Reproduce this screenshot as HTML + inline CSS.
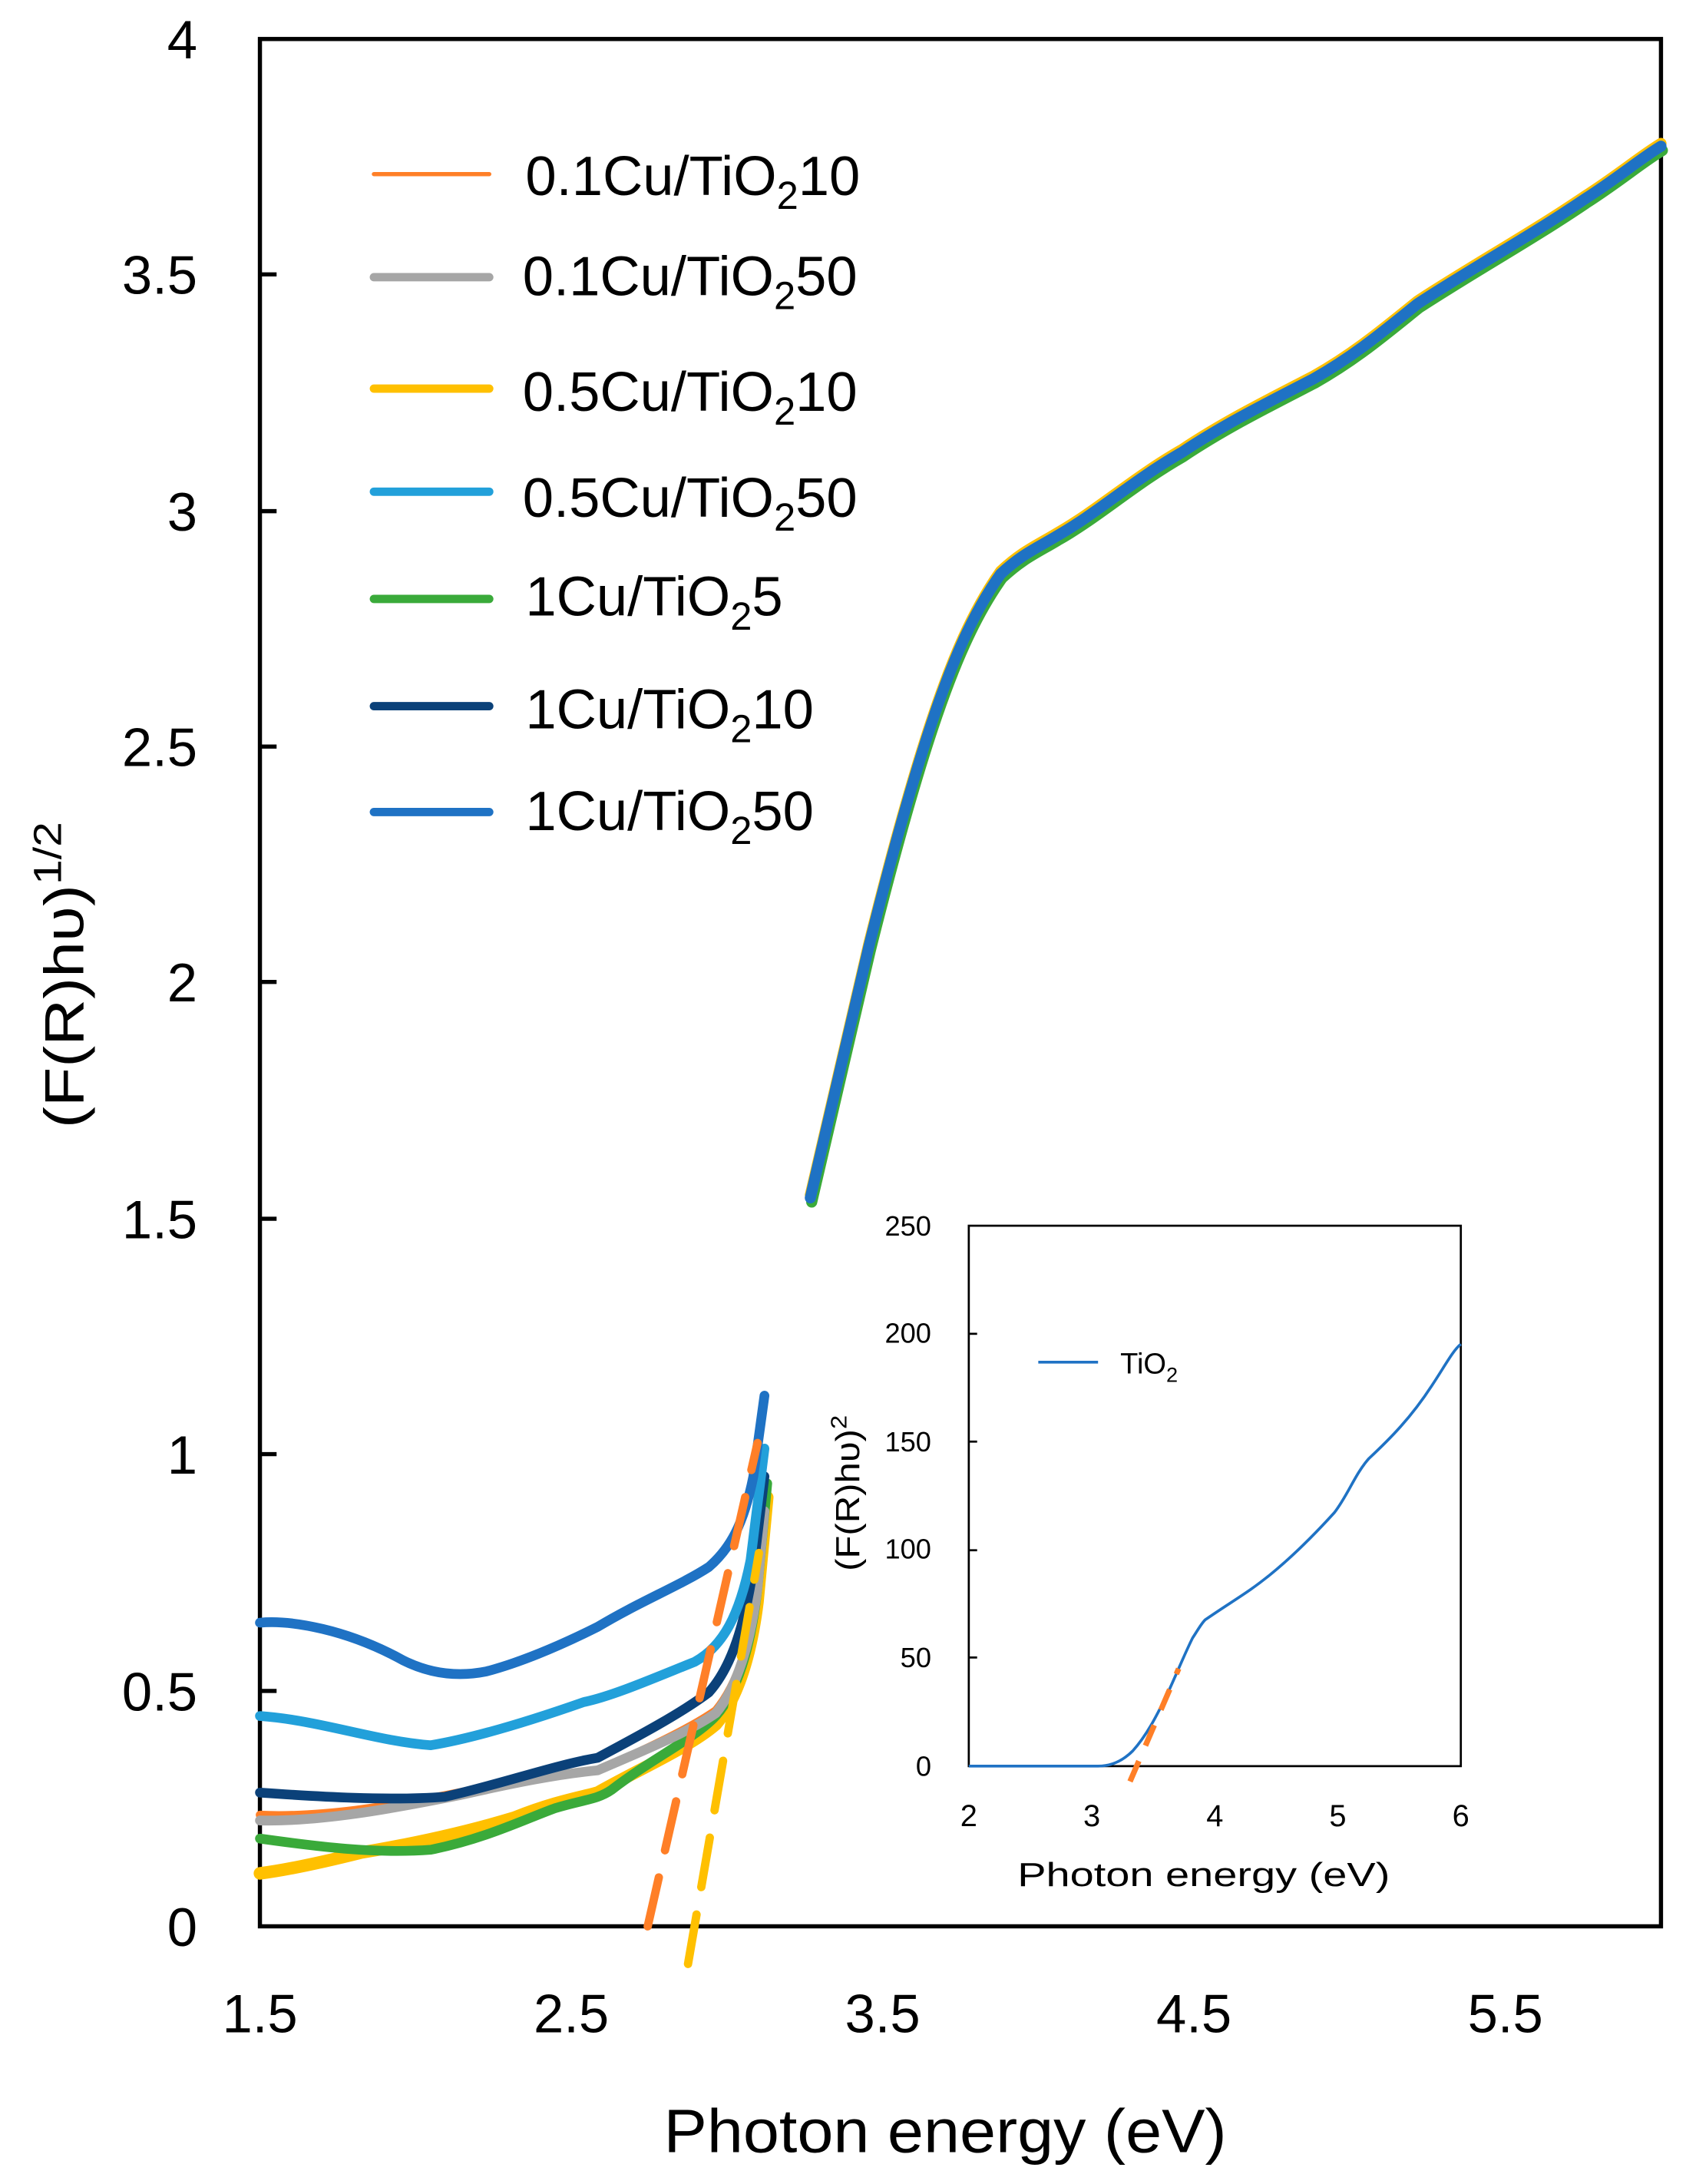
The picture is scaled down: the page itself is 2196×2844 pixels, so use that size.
<!DOCTYPE html>
<html><head><meta charset="utf-8"><style>
html,body{margin:0;padding:0;background:#fff;}
svg{display:block;}
text{font-family:"Liberation Sans",sans-serif;fill:#000;}
</style></head><body>
<svg width="2196" height="2844" viewBox="0 0 1213 1568" preserveAspectRatio="none" xmlns="http://www.w3.org/2000/svg">
<rect width="1213" height="1568" fill="#fff"/>
<rect x="187" y="28" width="1008" height="1355" fill="none" stroke="#000" stroke-width="3"/>
<g stroke="#000" stroke-width="3">
<line x1="187" y1="197" x2="199" y2="197"/><line x1="187" y1="367" x2="199" y2="367"/>
<line x1="187" y1="536" x2="199" y2="536"/><line x1="187" y1="705" x2="199" y2="705"/>
<line x1="187" y1="875" x2="199" y2="875"/><line x1="187" y1="1044" x2="199" y2="1044"/>
<line x1="187" y1="1214" x2="199" y2="1214"/>
</g>
<g font-size="39" text-anchor="end">
<text x="142" y="42">4</text><text x="142" y="211">3.5</text><text x="142" y="381">3</text>
<text x="142" y="550">2.5</text><text x="142" y="719">2</text><text x="142" y="889">1.5</text>
<text x="142" y="1058">1</text><text x="142" y="1228">0.5</text><text x="142" y="1397">0</text>
</g>
<g font-size="39" text-anchor="middle">
<text x="187" y="1459">1.5</text><text x="411" y="1459">2.5</text><text x="635" y="1459">3.5</text>
<text x="859" y="1459">4.5</text><text x="1083" y="1459">5.5</text>
</g>
<text x="680" y="1545" font-size="44" text-anchor="middle" textLength="405" lengthAdjust="spacingAndGlyphs">Photon energy (eV)</text>
<text transform="translate(60,700) rotate(-90)" font-size="40" text-anchor="middle" textLength="220" lengthAdjust="spacingAndGlyphs">(F(R)hυ)<tspan dy="-16" font-size="28">1/2</tspan></text>

<g fill="none" stroke-linejoin="round" stroke-linecap="round">
<g id="up">
<path d="M583,860 C598,795 612,735 625,680 C640,620 655,565 670,520 C685,475 700,440 720,412 C735,398 745,394 760,385 C790,368 815,345 850,325 C880,305 910,290 945,272 C975,255 995,238 1020,218 C1060,192 1100,170 1140,143 C1165,127 1180,114 1195,105" stroke="#3aaa3a" stroke-width="8" transform="translate(1,3)"/>
<path d="M583,860 C598,795 612,735 625,680 C640,620 655,565 670,520 C685,475 700,440 720,412 C735,398 745,394 760,385 C790,368 815,345 850,325 C880,305 910,290 945,272 C975,255 995,238 1020,218 C1060,192 1100,170 1140,143 C1165,127 1180,114 1195,105" stroke="#ffc000" stroke-width="8" transform="translate(0,-2)"/>
<path d="M583,860 C598,795 612,735 625,680 C640,620 655,565 670,520 C685,475 700,440 720,412 C735,398 745,394 760,385 C790,368 815,345 850,325 C880,305 910,290 945,272 C975,255 995,238 1020,218 C1060,192 1100,170 1140,143 C1165,127 1180,114 1195,105" stroke="#1f72c4" stroke-width="8"/>
</g>

<path d="M187,1345 C210,1342 240,1335 260,1330 C290,1325 330,1317 370,1305 C400,1293 420,1290 430,1287 C460,1270 495,1255 515,1238 C530,1220 540,1190 545,1150 C548,1120 550,1095 552,1075" stroke="#ffc000" stroke-width="9"/>
<path d="M187,1303 C230,1305 280,1297 330,1287 C370,1279 400,1274 430,1271 C460,1258 495,1242 515,1228 C530,1210 540,1180 545,1140 L550,1080" stroke="#ff7f27" stroke-width="6"/>
<path d="M187,1320 C230,1326 270,1331 310,1328 C350,1320 380,1305 400,1298 C420,1292 430,1292 440,1285 C470,1262 500,1248 515,1232 C530,1215 540,1185 545,1140 L552,1065" stroke="#3aaa3a" stroke-width="7"/>
<path d="M187,1307 C230,1308 280,1299 330,1289 C370,1280 400,1274 430,1271 C460,1258 495,1244 515,1230 C530,1212 540,1180 545,1140 L550,1085" stroke="#a6a6a6" stroke-width="7"/>
<path d="M187,1287 C230,1290 280,1293 320,1290 C360,1281 400,1267 430,1262 C460,1246 490,1230 510,1215 C528,1195 538,1160 544,1110 L550,1060" stroke="#0b4179" stroke-width="7"/>
<path d="M187,1232 C230,1235 270,1250 310,1253 C340,1248 380,1236 420,1222 C440,1218 470,1205 500,1193 C520,1182 532,1160 540,1120 L550,1040" stroke="#22a0da" stroke-width="7"/>
<path d="M187,1165 C210,1163 250,1170 290,1192 C310,1202 330,1204 350,1200 C380,1192 410,1178 430,1168 C460,1150 490,1138 510,1125 C525,1112 535,1095 542,1060 L550,1002" stroke="#1f72c4" stroke-width="7"/>

<line x1="466" y1="1383" x2="545" y2="1036" stroke="#ff7f27" stroke-width="6" stroke-dasharray="36,20"/>
<line x1="495" y1="1410" x2="546" y2="1115" stroke="#ffc000" stroke-width="6" stroke-dasharray="36,20"/>
</g>

<g stroke-linecap="round">
<line x1="269" y1="125" x2="352" y2="125" stroke="#ff7f27" stroke-width="3"/>
<line x1="269" y1="199" x2="352" y2="199" stroke="#a6a6a6" stroke-width="6"/>
<line x1="269" y1="279" x2="352" y2="279" stroke="#ffc000" stroke-width="6"/>
<line x1="269" y1="353" x2="352" y2="353" stroke="#22a0da" stroke-width="6"/>
<line x1="269" y1="430" x2="352" y2="430" stroke="#3aaa3a" stroke-width="6"/>
<line x1="269" y1="507" x2="352" y2="507" stroke="#0b4179" stroke-width="6"/>
<line x1="269" y1="583" x2="352" y2="583" stroke="#1f72c4" stroke-width="6"/>
</g>
<g font-size="40">
<text x="378" y="140">0.1Cu/TiO<tspan dy="10" font-size="28">2</tspan><tspan dy="-10">10</tspan></text>
<text x="376" y="212">0.1Cu/TiO<tspan dy="10" font-size="28">2</tspan><tspan dy="-10">50</tspan></text>
<text x="376" y="295">0.5Cu/TiO<tspan dy="10" font-size="28">2</tspan><tspan dy="-10">10</tspan></text>
<text x="376" y="371">0.5Cu/TiO<tspan dy="10" font-size="28">2</tspan><tspan dy="-10">50</tspan></text>
<text x="378" y="442">1Cu/TiO<tspan dy="10" font-size="28">2</tspan><tspan dy="-10">5</tspan></text>
<text x="378" y="523">1Cu/TiO<tspan dy="10" font-size="28">2</tspan><tspan dy="-10">10</tspan></text>
<text x="378" y="596">1Cu/TiO<tspan dy="10" font-size="28">2</tspan><tspan dy="-10">50</tspan></text>
</g>

<rect x="697" y="880" width="354" height="388" fill="#fff" stroke="#000" stroke-width="1.5"/>
<g stroke="#000" stroke-width="1.5">
<line x1="697" y1="957.6" x2="703" y2="957.6"/><line x1="697" y1="1035" x2="703" y2="1035"/>
<line x1="697" y1="1113" x2="703" y2="1113"/><line x1="697" y1="1190" x2="703" y2="1190"/>
</g>
<g font-size="20" text-anchor="end">
<text x="670" y="887">250</text><text x="670" y="964">200</text><text x="670" y="1042">150</text>
<text x="670" y="1119">100</text><text x="670" y="1197">50</text><text x="670" y="1275">0</text>
</g>
<g font-size="22" text-anchor="middle">
<text x="697" y="1311">2</text><text x="785.5" y="1311">3</text><text x="874" y="1311">4</text>
<text x="962.5" y="1311">5</text><text x="1051" y="1311">6</text>
</g>
<text x="866" y="1354" font-size="24" text-anchor="middle" textLength="268" lengthAdjust="spacingAndGlyphs">Photon energy (eV)</text>
<text transform="translate(618,1072) rotate(-90)" font-size="24" text-anchor="middle" textLength="112" lengthAdjust="spacingAndGlyphs">(F(R)hυ)<tspan dy="-9" font-size="16">2</tspan></text>
<line x1="747" y1="978" x2="790" y2="978" stroke="#1f72c4" stroke-width="2"/>
<text x="806" y="986" font-size="21">TiO<tspan dy="6" font-size="15">2</tspan></text>
<path d="M697,1268 L790,1268 C800,1268 808,1264 815,1257 C825,1246 832,1232 839,1218 C846,1203 852,1188 858,1176 C862,1170 864,1166 867,1163 C880,1154 890,1148 900,1141 C920,1127 940,1108 960,1086 C970,1073 975,1058 985,1047 C1000,1033 1015,1018 1030,995 C1040,980 1045,970 1051,965" fill="none" stroke="#1f72c4" stroke-width="2"/>
<line x1="813" y1="1279" x2="848" y2="1198" stroke="#ff7f27" stroke-width="4" stroke-dasharray="16,12"/>
</svg>
</body></html>
